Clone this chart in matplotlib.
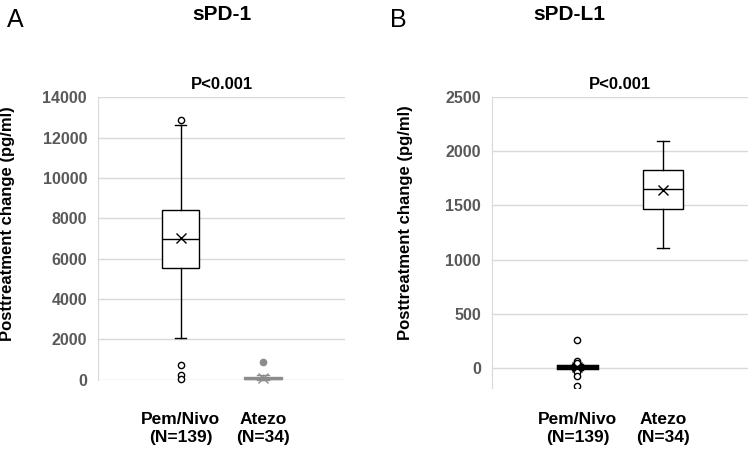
import matplotlib.pyplot as plt
import numpy as np

plt.rcParams['font.family'] = ['Liberation Sans', 'DejaVu Sans']

groups = ['Pem/Nivo\n(N=139)', 'Atezo\n(N=34)']

# sPD-1 box stats: whislo, q1, med, q3, whishi, mean, fliers
pd1_whislo = [2090, 0]
pd1_q1 = [5540, 20]
pd1_med = [6960, 60]
pd1_q3 = [8400, 130]
pd1_whishi = [12620, 250]
pd1_mean = [7030, 110]
pd1_fliers = [[12880, 720, 230, 30], [890]]

# sPD-L1 box stats
pdl1_whislo = [-20, 1110]
pdl1_q1 = [-5, 1465]
pdl1_med = [5, 1655]
pdl1_q3 = [20, 1830]
pdl1_whishi = [40, 2095]
pdl1_mean = [12, 1645]
pdl1_fliers = [[262, 62, 42, -35, -72, -165], []]

tick_col = '#595959'
grid_col = '#d9d9d9'


def make_stats(wl, q1, med, q3, wh, mean, fl):
    out = []
    for i in range(len(wl)):
        out.append(dict(whislo=wl[i], q1=q1[i], med=med[i], q3=q3[i],
                        whishi=wh[i], mean=mean[i], fliers=fl[i]))
    return out


def draw_box(ax, st, pos, color, fill, lw=1.0, medlw=1.0):
    ax.bxp([st], positions=[pos], widths=0.46, patch_artist=True, showmeans=True,
           showcaps=True,
           boxprops=dict(facecolor=fill, edgecolor=color, lw=lw),
           medianprops=dict(color=color, lw=medlw),
           whiskerprops=dict(color=color, lw=1),
           capprops=dict(color=color, lw=1),
           meanprops=dict(marker='x', markeredgecolor=color, markersize=7, markeredgewidth=1),
           flierprops=dict(marker='o', markerfacecolor=fill if color != 'black' else 'white',
                           markeredgecolor=color, markersize=4.5, markeredgewidth=1),
           capwidths=0.14)


def style_ax(ax, ymin, ymax, step, pad):
    ax.set_xlim(0, 3)
    ax.set_ylim(ymin, ymax)
    ax.set_yticks(np.arange(0, ymax + 1, step))
    ax.yaxis.grid(True, color=grid_col, lw=1)
    ax.set_axisbelow(True)
    for s in ['top', 'right', 'bottom']:
        ax.spines[s].set_visible(False)
    ax.spines['left'].set_color(grid_col)
    ax.tick_params(axis='y', length=0, pad=8, labelsize=11.5, labelcolor=tick_col)
    for lab in ax.get_yticklabels():
        lab.set_fontweight('bold')
    ax.set_xticks([1, 2])
    ax.set_xticklabels(groups, fontsize=12.5, fontweight='bold', linespacing=1.25)
    ax.tick_params(axis='x', length=0, pad=pad)
    ax.set_ylabel('Posttreatment change (pg/ml)', fontsize=12, fontweight='bold')
    ax.set_title('P<0.001', fontsize=12, fontweight='bold', pad=6)


fig = plt.figure(figsize=(7.49, 4.5), dpi=100)

ax1 = fig.add_axes([0.131, 0.156, 0.330, 0.628])
s1 = make_stats(pd1_whislo, pd1_q1, pd1_med, pd1_q3, pd1_whishi, pd1_mean, pd1_fliers)
draw_box(ax1, s1[0], 1, 'black', 'white')
draw_box(ax1, s1[1], 2, '#8c8c8c', '#8c8c8c')
style_ax(ax1, 0, 14000, 2000, 23)
for a in ax1.lines + ax1.patches:
    a.set_clip_on(False)
ax1.yaxis.set_label_coords(-0.335, 0.553)

ax2 = fig.add_axes([0.657, 0.138, 0.342, 0.646])
s2 = make_stats(pdl1_whislo, pdl1_q1, pdl1_med, pdl1_q3, pdl1_whishi, pdl1_mean, pdl1_fliers)
draw_box(ax2, s2[0], 1, 'black', 'white', lw=2.5, medlw=2.5)
draw_box(ax2, s2[1], 2, 'black', 'white')
style_ax(ax2, -185, 2500, 500, 17)
ax2.yaxis.set_label_coords(-0.31, 0.567)

fig.text(0.009, 0.955, 'A', fontsize=18, va='center')
fig.text(0.296, 0.967, 'sPD-1', fontsize=15, fontweight='bold', ha='center', va='center')
fig.text(0.521, 0.955, 'B', fontsize=18, va='center')
fig.text(0.760, 0.967, 'sPD-L1', fontsize=15, fontweight='bold', ha='center', va='center')

fig.savefig('out.png', dpi=100)
